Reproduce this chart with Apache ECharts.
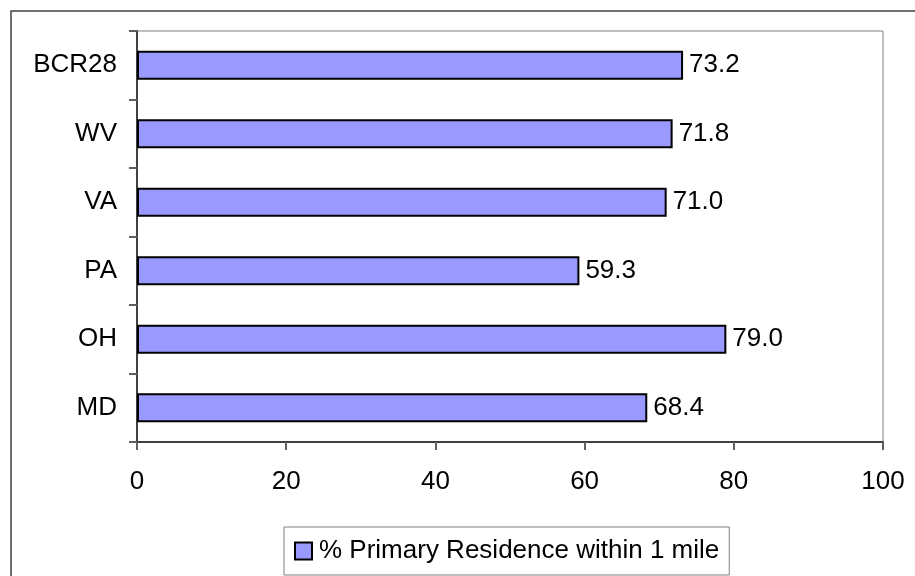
<!DOCTYPE html>
<html>
<head>
<meta charset="utf-8">
<script src="https://cdn.jsdelivr.net/npm/echarts@6/dist/echarts.min.js"></script>
<style>
  html, body { margin: 0; padding: 0; background: #ffffff; }
  #chart { width: 915px; height: 576px; }
</style>
</head>
<body>
<div id="chart"></div>
<script>
// Regions / states, listed bottom to top
const categories = ['MD', 'OH', 'PA', 'VA', 'WV', 'BCR28'];
// Share of respondents whose primary residence is within 1 mile (%)
const residenceWithin1Mile = [68.4, 79.0, 59.3, 71.0, 71.8, 73.2];
const seriesName = '% Primary Residence within 1 mile';
const xTicks = [0, 20, 40, 60, 80, 100];

const FONT = 'Arial, "Liberation Sans", sans-serif';
const FS = 26;

const chart = echarts.init(document.getElementById('chart'), null, { renderer: 'canvas' });

chart.setOption({
  backgroundColor: '#ffffff',
  animation: false,
  textStyle: { fontFamily: FONT },
  graphic: [
    {
      // outer chart frame (runs off the right and bottom edges)
      type: 'rect',
      shape: { x: 11, y: 11, width: 1000, height: 1000 },
      style: { fill: 'none', stroke: '#404040', lineWidth: 1.5 },
      z: 0
    }
  ],
  grid: {
    left: 137, top: 31, right: 32, bottom: 134,
    show: true,
    borderColor: '#808080',
    borderWidth: 1,
    backgroundColor: '#ffffff'
  },
  legend: {
    left: 284,
    top: 527,
    padding: [11, 10, 11, 10],
    itemWidth: 17,
    itemHeight: 17,
    itemGap: 0,
    borderColor: '#808080',
    borderWidth: 1,
    backgroundColor: '#ffffff',
    icon: 'rect',
    textStyle: { fontSize: FS, color: '#000', fontFamily: FONT, padding: [0, 0, 0, 2] },
    data: [seriesName]
  },
  xAxis: {
    type: 'value',
    min: xTicks[0],
    max: xTicks[xTicks.length - 1],
    interval: xTicks[1] - xTicks[0],
    axisLine: { show: true, lineStyle: { color: '#404040', width: 2 } },
    axisTick: { show: true, length: 8, lineStyle: { color: '#606060', width: 2 } },
    axisLabel: { fontSize: FS, color: '#000', margin: 27, fontFamily: FONT },
    splitLine: { show: false }
  },
  yAxis: {
    type: 'category',
    data: categories,
    axisLine: { show: true, lineStyle: { color: '#404040', width: 2 } },
    axisTick: { show: true, length: 8, alignWithLabel: false, lineStyle: { color: '#606060', width: 2 } },
    axisLabel: { fontSize: FS, color: '#000', margin: 20, fontFamily: FONT }
  },
  series: [
    {
      name: seriesName,
      type: 'bar',
      data: residenceWithin1Mile,
      barCategoryGap: '58%',
      itemStyle: { color: '#9999FF', borderColor: '#000000', borderWidth: 2 },
      label: {
        show: true,
        position: 'right',
        distance: 6,
        fontSize: FS,
        color: '#000',
        fontFamily: FONT,
        formatter: p => p.value.toFixed(1)
      }
    }
  ]
});
</script>
</body>
</html>
